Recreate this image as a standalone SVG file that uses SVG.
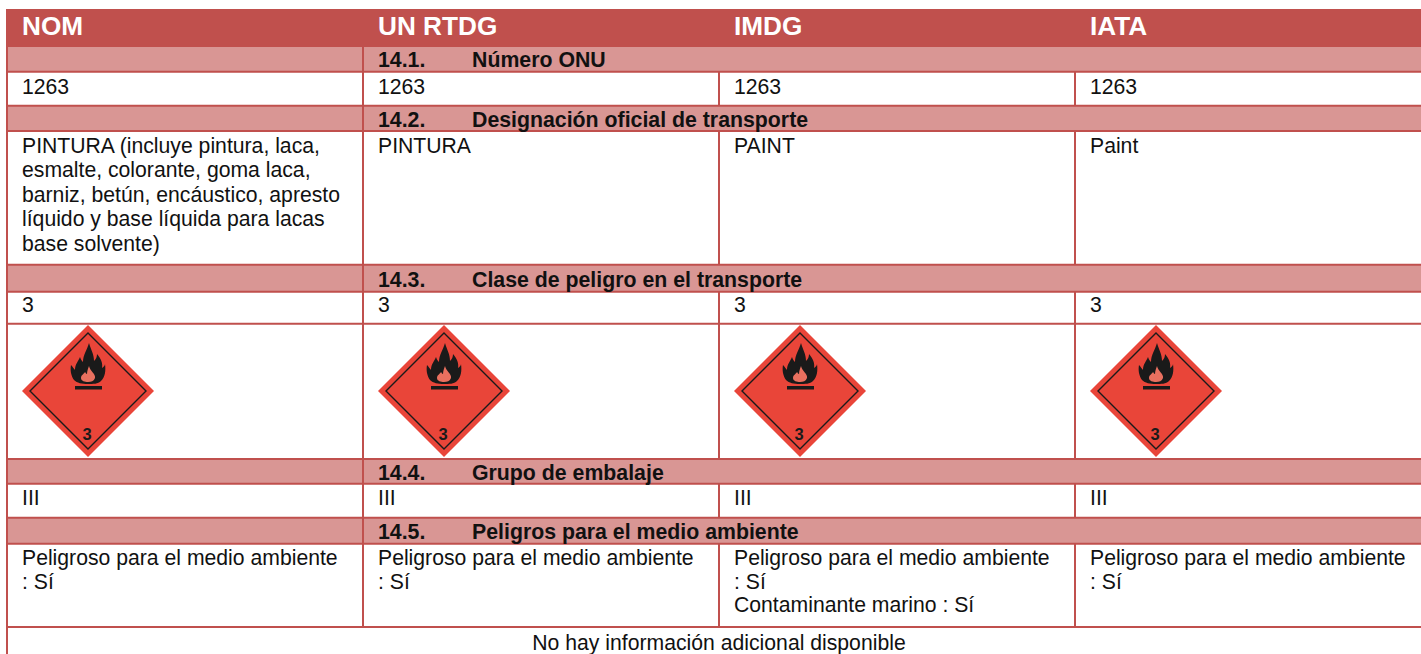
<svg xmlns="http://www.w3.org/2000/svg" width="1421" height="654" viewBox="0 0 1421 654">
<style>
text{font-family:"Liberation Sans",Arial,sans-serif;fill:#111;font-size:21.2px}
.h{font-weight:700;font-size:26.2px;fill:#fff}
.b{font-weight:700;font-size:21.3px}
.band{fill:#d99694}
.ln{stroke:#c0504d;stroke-width:2;fill:none}
</style>
<defs>
<g id="hazard">
<polygon points="0,-66 66,0 0,66 -66,0" fill="#e94539"/>
<polygon points="0,-58 58,0 0,58 -58,0" fill="none" stroke="#1a1a1a" stroke-width="1.4"/>
<path d="M1,-48C3,-41 6,-37 6,-30C8,-32 9,-34 9,-37C13,-32 15,-28 14,-23C16,-24 17,-26 17,-27C18,-20 17,-14 13,-10C10,-7 5,-7 0,-7C-6,-7 -11,-8 -14,-11C-17,-15 -18,-21 -17,-26C-15,-24 -14,-22 -13,-21C-13,-27 -10,-29 -8,-34C-7,-31 -6,-30 -5,-29C-5,-36 -1,-41 1,-48Z" fill="#1a1a1a"/>
<path d="M1,-25C2,-20 8,-17 7,-13C6,-10 3,-9 0,-9C-3,-9 -7,-10 -7,-13C-7,-16 -4,-17 -3,-19C-2,-18 -2,-17 -1,-17C-1,-20 0,-22 1,-25Z" fill="#e9705f"/>
<rect x="-13" y="-5" width="27" height="3.500" fill="#1a1a1a"/>
<text x="-1" y="49" text-anchor="middle" style="font-size:16.500px;font-weight:700;fill:#1a1a1a">3</text>
</g>
</defs>
<g id="header">
<rect x="6" y="9" width="1415" height="38" fill="#c0504d"/>
<text class="h" x="22" y="35">NOM</text>
<text class="h" x="378" y="35">UN RTDG</text>
<text class="h" x="734" y="35">IMDG</text>
<text class="h" x="1090" y="35">IATA</text>
</g>
<g id="bands">
<rect class="band" x="7" y="47" width="1414" height="25"/>
<rect class="band" x="7" y="106" width="1414" height="25"/>
<rect class="band" x="7" y="265" width="1414" height="27"/>
<rect class="band" x="7" y="459" width="1414" height="25"/>
<rect class="band" x="7" y="518" width="1414" height="26"/>
</g>
<g id="grid">
<path class="ln" d="M7 9V654M363 47V627M719 72V106M719 131V265M719 292V459M719 484V518M719 544V627M1075 72V106M1075 131V265M1075 292V459M1075 484V518M1075 544V627"/>
<path class="ln" d="M6 71.800H1421M6 105.800H1421M6 131H1421M6 264.800H1421M6 291.800H1421M6 323.800H1421M6 459H1421M6 483.800H1421M6 517.800H1421M6 543.800H1421M6 627H1421"/>
</g>
<g id="section-14-1"><text class="b" x="378" y="66.700">14.1.</text><text class="b" x="472" y="66.700">Número ONU</text></g>
<g id="row-1">
<text x="22" y="93.500">1263</text><text x="378" y="93.500">1263</text><text x="734" y="93.500">1263</text><text x="1090" y="93.500">1263</text>
</g>
<g id="section-14-2"><text class="b" x="378" y="126.700">14.2.</text><text class="b" x="472" y="126.700">Designación oficial de transporte</text></g>
<g id="row-2">
<text x="22" y="152.700">PINTURA (incluye pintura, laca,</text>
<text x="22" y="177.200">esmalte, colorante, goma laca,</text>
<text x="22" y="201.500">barniz, betún, encáustico, apresto</text>
<text x="22" y="226">líquido y base líquida para lacas</text>
<text x="22" y="250.500">base solvente)</text>
<text x="378" y="152.700">PINTURA</text><text x="734" y="152.700">PAINT</text><text x="1090" y="152.700">Paint</text>
</g>
<g id="section-14-3"><text class="b" x="378" y="286.700">14.3.</text><text class="b" x="472" y="286.700">Clase de peligro en el transporte</text></g>
<g id="row-3">
<text x="22" y="312">3</text><text x="378" y="312">3</text><text x="734" y="312">3</text><text x="1090" y="312">3</text>
</g>
<g id="pictograms">
<use href="#hazard" x="88" y="391"/>
<use href="#hazard" x="444" y="391"/>
<use href="#hazard" x="800" y="391"/>
<use href="#hazard" x="1156" y="391"/>
</g>
<g id="section-14-4"><text class="b" x="378" y="479.600">14.4.</text><text class="b" x="472" y="479.600">Grupo de embalaje</text></g>
<g id="row-4">
<text x="22" y="505">III</text><text x="378" y="505">III</text><text x="734" y="505">III</text><text x="1090" y="505">III</text>
</g>
<g id="section-14-5"><text class="b" x="378" y="539.300">14.5.</text><text class="b" x="472" y="539.300">Peligros para el medio ambiente</text></g>
<g id="row-5">
<text x="22" y="565">Peligroso para el medio ambiente</text><text x="22" y="589">: Sí</text>
<text x="378" y="565">Peligroso para el medio ambiente</text><text x="378" y="589">: Sí</text>
<text x="734" y="565">Peligroso para el medio ambiente</text><text x="734" y="589">: Sí</text><text x="734" y="612">Contaminante marino : Sí</text>
<text x="1090" y="565">Peligroso para el medio ambiente</text><text x="1090" y="589">: Sí</text>
</g>
<g id="footer"><text x="719" y="650" text-anchor="middle">No hay información adicional disponible</text></g>
</svg>
